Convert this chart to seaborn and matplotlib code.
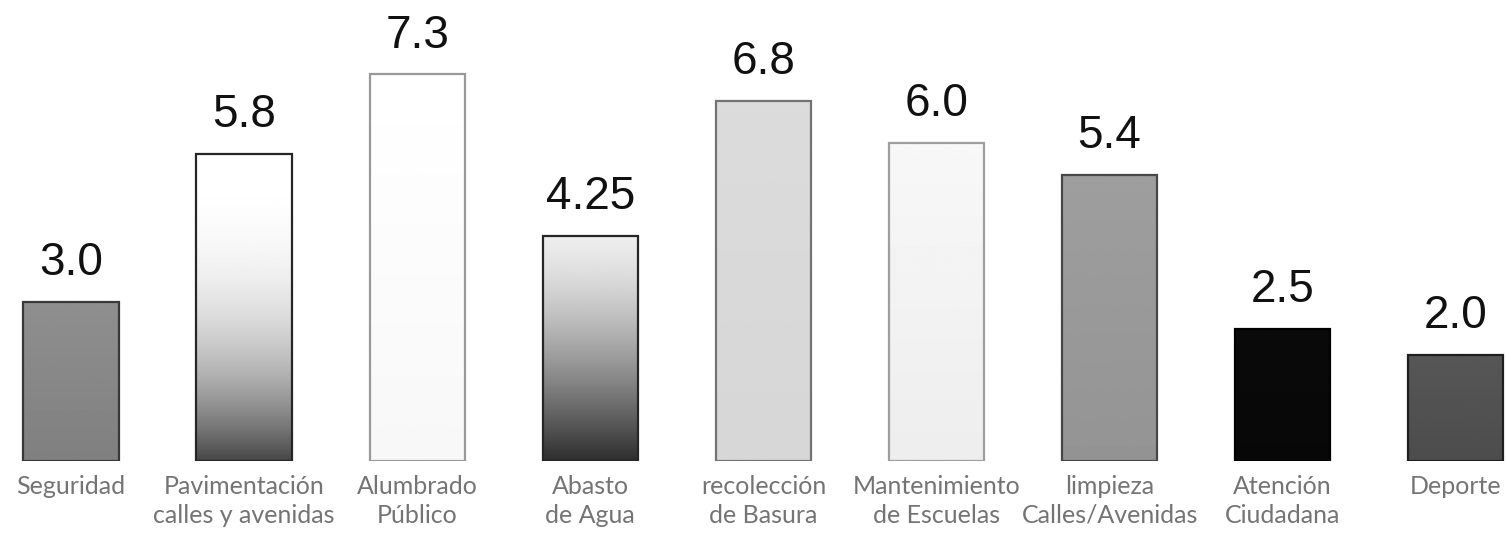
import numpy as np
import matplotlib
matplotlib.use("Agg")
import matplotlib.pyplot as plt
import seaborn as sns

# chart data
categories = ["Seguridad", "Pavimentación\ncalles y avenidas", "Alumbrado\nPúblico",
              "Abasto\nde Agua", "recolección\nde Basura", "Mantenimiento\nde Escuelas",
              "limpieza\nCalles/Avenidas", "Atención\nCiudadana", "Deporte"]
values = [3.0, 5.8, 7.3, 4.25, 6.8, 6.0, 5.4, 2.5, 2.0]
value_labels = ["3.0", "5.8", "7.3", "4.25", "6.8", "6.0", "5.4", "2.5", "2.0"]

# gray fill per bar: (top level, bottom level, curve power, edge level)
bar_shades = [
    (0.56, 0.50, 1.0, 0.22),
    (1.00, 0.28, 2.6, 0.15),
    (1.00, 0.97, 1.0, 0.60),
    (0.93, 0.18, 1.4, 0.15),
    (0.86, 0.84, 1.0, 0.45),
    (0.97, 0.93, 1.0, 0.62),
    (0.62, 0.58, 1.0, 0.28),
    (0.04, 0.03, 1.0, 0.00),
    (0.34, 0.30, 1.0, 0.12),
]

sns.set_theme(style="white")
plt.rcParams["font.family"] = ["Liberation Sans", "DejaVu Sans"]

fig = plt.figure(figsize=(15.06, 5.36), dpi=100)
ax = fig.add_axes([0, 0.14, 1, 0.86])

sns.barplot(x=categories, y=values, color="white", width=0.55, ax=ax, zorder=1)

# gradient fills clipped to each bar
for patch, (top, bottom, power, edge) in zip(ax.patches, bar_shades):
    x0, y0 = patch.get_x(), patch.get_y()
    w, h = patch.get_width(), patch.get_height()
    s = np.linspace(1, 0, 200) ** power  # row 0 = bottom
    levels = top + (bottom - top) * s
    img = ax.imshow(levels[:, None], cmap="gray", vmin=0, vmax=1, aspect="auto",
                    origin="lower", extent=(x0, x0 + w, y0, y0 + h),
                    interpolation="bilinear", zorder=2)
    img.set_clip_path(patch)
    patch.set_edgecolor(str(edge))
    patch.set_linewidth(1.6)
    patch.set_zorder(3)
    patch.set_facecolor("none")

ax.bar_label(ax.containers[0], labels=value_labels, padding=12,
             fontsize=33, color="#111111", family=["Liberation Sans", "DejaVu Sans"])

ax.set_xlim(-0.41, 8.29)
ax.set_ylim(0, 8.7)
ax.set_yticks([])
ax.set_xlabel("")
ax.set_ylabel("")
ax.tick_params(axis="x", length=0, pad=10)
for lab in ax.get_xticklabels():
    lab.set_fontfamily(["Lato", "DejaVu Sans"])
    lab.set_fontsize(18)
    lab.set_color("#747474")
    lab.set_linespacing(1.3)
sns.despine(ax=ax, left=True, bottom=True)

fig.savefig("out.png", dpi=100, facecolor="white")
